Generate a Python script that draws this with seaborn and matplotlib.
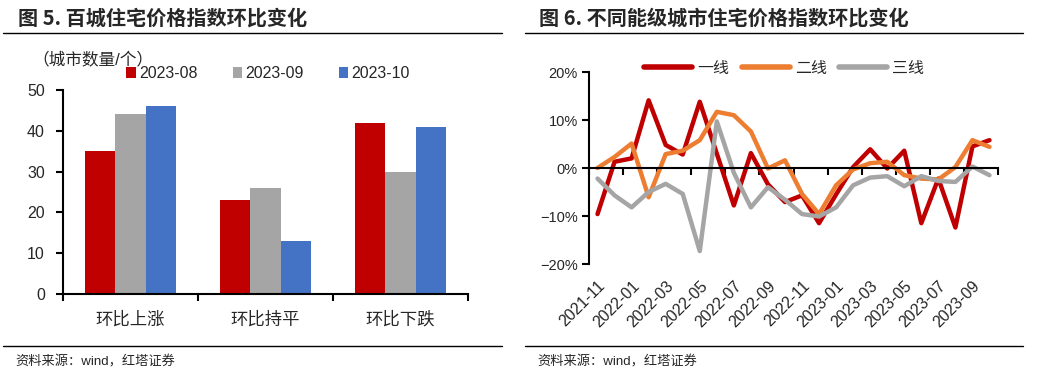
import numpy as np
import pandas as pd
import matplotlib
matplotlib.use("Agg")
import matplotlib.pyplot as plt
from matplotlib.lines import Line2D
from matplotlib.ticker import FixedLocator, NullFormatter, FuncFormatter
import seaborn as sns

# ---- data: left chart (number of cities) ----
bar_cats = ["环比上涨", "环比持平", "环比下跌"]
bar_months = ["2023-08", "2023-09", "2023-10"]
vals_0808 = [35, 23, 42]
vals_0909 = [44, 26, 30]
vals_1010 = [46, 13, 41]
bar_colors = ["#C00000", "#A5A5A5", "#4472C4"]

# ---- data: right chart (mom change, %) ----
months = ["2021-11", "2021-12", "2022-01", "2022-02", "2022-03", "2022-04",
          "2022-05", "2022-06", "2022-07", "2022-08", "2022-09", "2022-10",
          "2022-11", "2022-12", "2023-01", "2023-02", "2023-03", "2023-04",
          "2023-05", "2023-06", "2023-07", "2023-08", "2023-09", "2023-10"]
tier1 = [-9.6, 1.3, 2.0, 14.1, 4.8, 2.8, 13.8, 3.0, -7.8, 3.1, -3.4, -7.1,
         -5.7, -11.5, -5.5, 0.2, 3.9, -0.1, 3.6, -11.5, -2.2, -12.4, 4.5, 5.8]
tier2 = [0.0, 2.3, 5.1, -6.1, 2.9, 3.6, 5.8, 11.7, 11.0, 7.6, -0.1, 1.6,
         -5.4, -9.6, -3.6, -0.3, 1.0, 1.3, -1.5, -2.2, -2.4, 0.2, 5.8, 4.4]
tier3 = [-2.2, -5.7, -8.2, -5.0, -3.3, -5.4, -17.3, 9.7, -1.0, -8.2, -4.0, -6.6,
         -9.6, -10.1, -8.2, -3.6, -2.0, -1.7, -3.8, -1.7, -2.7, -2.9, 0.3, -1.5]
tiers = ["一线", "二线", "三线"]
line_colors = ["#C00000", "#ED7D31", "#A5A5A5"]

sns.set_theme(style="white")
plt.rcParams["font.family"] = ["Liberation Sans", "Noto Sans CJK SC", "DejaVu Sans"]
plt.rcParams["axes.unicode_minus"] = True

W, H = 1037, 381
fig = plt.figure(figsize=(W / 100, H / 100), dpi=100)


def fx(px):
    return px / W


def fy(py):
    return 1 - py / H


# ---------- titles, rules, sources ----------
cjk = ["Noto Sans CJK SC", "Liberation Sans"]
fig.text(fx(18), fy(18), "图 5. 百城住宅价格指数环比变化", fontsize=14.5,
         fontweight="bold", family=cjk, va="center", ha="left")
fig.text(fx(539), fy(18), "图 6. 不同能级城市住宅价格指数环比变化", fontsize=14.5,
         fontweight="bold", family=cjk, va="center", ha="left")
for x0, x1 in [(3, 502), (525, 1023)]:
    fig.add_artist(Line2D([fx(x0), fx(x1)], [fy(33), fy(33)], color="black", lw=1))
    fig.add_artist(Line2D([fx(x0), fx(x1)], [fy(346), fy(346)], color="black", lw=1))
fig.text(fx(15), fy(362), "资料来源：wind，红塔证券", fontsize=9.5, va="center", ha="left")
fig.text(fx(537), fy(362), "资料来源：wind，红塔证券", fontsize=9.5, va="center", ha="left")

# ---------- left: bar chart ----------
bar_df = pd.DataFrame({
    "cat": bar_cats * 3,
    "month": [m for m in bar_months for _ in bar_cats],
    "val": vals_0808 + vals_0909 + vals_1010,
})
ax1 = fig.add_axes([fx(63), fy(294), fx(468) - fx(63), fy(90) - fy(294)])
sns.barplot(data=bar_df, x="cat", y="val", hue="month", palette=bar_colors,
            width=0.667, saturation=1, linewidth=0, ax=ax1, legend=True)
ax1.set_xlim(-0.5, 2.5)
ax1.set_ylim(0, 50)
ax1.set_yticks([0, 10, 20, 30, 40, 50])
ax1.set_xlabel("")
ax1.set_ylabel("")
ax1.xaxis.set_major_locator(FixedLocator([-0.5, 0.5, 1.5, 2.5]))
ax1.xaxis.set_major_formatter(NullFormatter())
ax1.xaxis.set_minor_locator(FixedLocator([0, 1, 2]))
ax1.set_xticklabels(bar_cats, minor=True)
ax1.tick_params(axis="x", which="major", direction="out", length=5, width=1.5,
                color="black", bottom=True)
ax1.tick_params(axis="x", which="minor", length=0, pad=12, labelsize=12.5)
ax1.tick_params(axis="y", direction="out", length=5, width=1.5, color="black",
                left=True, labelsize=11.5, pad=8)
for s in ["top", "right"]:
    ax1.spines[s].set_visible(False)
for s in ["left", "bottom"]:
    ax1.spines[s].set_color("black")
    ax1.spines[s].set_linewidth(1.5)
ax1.legend(ncol=3, frameon=False, loc="center left", bbox_to_anchor=(0.14, 1.08),
           handlelength=0.6, handleheight=0.6, handletextpad=0.2,
           columnspacing=2.2, fontsize=11.5, borderaxespad=0)
fig.text(fx(32), fy(60), "（城市数量/个）", fontsize=12, va="center", ha="left")

# ---------- right: line chart ----------
line_df = pd.DataFrame({
    "idx": list(range(len(months))) * 3,
    "tier": [t for t in tiers for _ in months],
    "val": tier1 + tier2 + tier3,
})
ax2 = fig.add_axes([fx(589), fy(264), fx(998) - fx(589), fy(72) - fy(264)])
sns.lineplot(data=line_df, x="idx", y="val", hue="tier", palette=line_colors,
             linewidth=3.2, ax=ax2, legend=False)
ax2.set_xlim(-0.5, len(months) - 0.5)
ax2.set_ylim(-20, 20)
ax2.set_yticks([-20, -10, 0, 10, 20])
ax2.yaxis.set_major_formatter(FuncFormatter(lambda v, p: f"{v:.0f}%".replace("-", "\u2212")))
ax2.set_xlabel("")
ax2.set_ylabel("")
for s in ["top", "right"]:
    ax2.spines[s].set_visible(False)
ax2.spines["left"].set_color("black")
ax2.spines["left"].set_linewidth(1.5)
ax2.spines["bottom"].set_position(("data", 0))
ax2.spines["bottom"].set_color("black")
ax2.spines["bottom"].set_linewidth(1.5)
ax2.spines["bottom"].set_zorder(3)
ax2.set_xticks(np.arange(-0.5, len(months), 2))
ax2.xaxis.set_major_formatter(NullFormatter())
ax2.tick_params(axis="x", direction="out", length=5, width=1.5, color="black", bottom=True)
ax2.tick_params(axis="y", direction="out", length=5, width=1.5, color="black",
                left=True, labelsize=10.5, pad=3)

sec = ax2.secondary_xaxis(0)
sec.set_xticks(range(0, len(months), 2))
sec.set_xticklabels(months[::2], rotation=45, ha="right", rotation_mode="anchor")
sec.tick_params(length=0, pad=10, labelsize=11.5)
sec.spines["bottom"].set_visible(False)

handles = [Line2D([], [], color=c, lw=4, solid_capstyle="round") for c in line_colors]
ax2.legend(handles, tiers, ncol=3, frameon=False, loc="center left",
           bbox_to_anchor=(0.12, 1.02), handlelength=3.0, handletextpad=0.3,
           columnspacing=0.8, fontsize=11.5, borderaxespad=0)

fig.savefig("out.png", dpi=100)
